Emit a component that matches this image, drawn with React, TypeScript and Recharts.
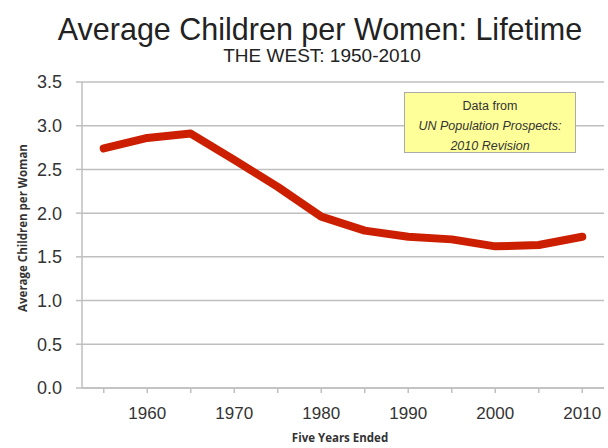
import React from 'react'
import { LineChart, Line, XAxis, YAxis, CartesianGrid } from 'recharts'

// five years ended
const years = [1955, 1960, 1965, 1970, 1975, 1980, 1985, 1990, 1995, 2000, 2005, 2010]
const childrenPerWoman = [2.74, 2.86, 2.91, 2.61, 2.3, 1.96, 1.8, 1.73, 1.7, 1.62, 1.635, 1.73]
const yTicks = [0, 0.5, 1, 1.5, 2, 2.5, 3, 3.5]
const xLabels = [1960, 1970, 1980, 1990, 2000, 2010]

const data = years.map((year, i) => ({ year, value: childrenPerWoman[i] }))

const font = "'Liberation Sans', Arial, sans-serif"

const App = () => {
  return (
    <div style={{ position: 'absolute', left: 0, top: 0, width: 608, height: 448, background: '#fff', fontFamily: font }}>
      <div style={{ position: 'absolute', left: 0, width: 640, top: 11, textAlign: 'center', fontSize: 30.5, color: '#222', lineHeight: '36px' }}>
        Average Children per Women: Lifetime
      </div>
      <div style={{ position: 'absolute', left: 0, width: 644, top: 45, textAlign: 'center', fontSize: 19, color: '#222', lineHeight: '22px' }}>
        THE WEST: 1950-2010
      </div>
      <LineChart width={608} height={448} data={data} margin={{ top: 82, right: 4, bottom: 30, left: 0 }}>
        <CartesianGrid vertical={false} stroke="#bfbfbf" strokeWidth={1.5} />
        <XAxis
          dataKey="year"
          type="number"
          domain={[1952.5, 2012.5]}
          ticks={years}
          interval={0}
          tickFormatter={(v: number) => (xLabels.includes(v) ? String(v) : '')}
          stroke="#bfbfbf"
          strokeWidth={1.5}
          tickSize={5}
          tickMargin={14}
          tick={{ fill: '#333', fontSize: 17, fontFamily: font }}
        />
        <YAxis
          domain={[0, 3.5]}
          ticks={yTicks}
          width={82}
          interval={0}
          tickFormatter={(v: number) => v.toFixed(1)}
          stroke="#bfbfbf"
          strokeWidth={1.5}
          tickSize={6}
          tickMargin={14}
          tick={{ fill: '#333', fontSize: 18, fontFamily: font }}
        />
        <Line
          dataKey="value"
          stroke="#cc1f00"
          strokeWidth={8}
          dot={false}
          type="linear"
          strokeLinejoin="round"
          strokeLinecap="round"
          isAnimationActive={false}
        />
      </LineChart>
      <div
        style={{
          position: 'absolute', left: 404, top: 92, width: 172, height: 61, boxSizing: 'border-box',
          background: '#ffff99', border: '1px solid #aaa', color: '#333', fontSize: 12.5,
          textAlign: 'center', lineHeight: '20px', paddingTop: 3,
        }}
      >
        <div>Data from</div>
        <div style={{ fontStyle: 'italic' }}>UN Population Prospects:</div>
        <div style={{ fontStyle: 'italic' }}>2010 Revision</div>
      </div>
      <div
        style={{
          position: 'absolute', left: 23, top: 228, width: 240, marginLeft: -120, marginTop: -8,
          transform: 'rotate(-90deg)', textAlign: 'center', fontSize: 11.5, fontWeight: 'bold',
          color: '#333', fontFamily: "'Open Sans', sans-serif", lineHeight: '16px',
        }}
      >
        Average Children per Woman
      </div>
      <div
        style={{
          position: 'absolute', left: 340, top: 430, width: 240, marginLeft: -120, textAlign: 'center',
          fontSize: 11.5, fontWeight: 'bold', color: '#333', fontFamily: "'Open Sans', sans-serif", lineHeight: '16px',
        }}
      >
        Five Years Ended
      </div>
    </div>
  )
}

export default App
